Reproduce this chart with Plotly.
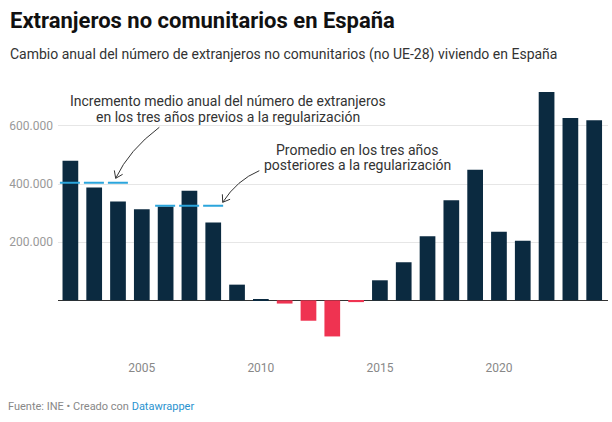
import plotly.graph_objects as go
import math

# ---------------- data ----------------
years = list(range(2002, 2025))
values = [480000, 388000, 340000, 313000, 323000, 377000, 268000, 54000, 4000,
          -11000, -70000, -124000, -6000, 69000, 131000, 220000, 344000, 449000,
          236000, 205000, 716000, 627000, 619000]
prev_years = [2002, 2004]
prev_avg = 404000
post_years = [2006, 2008]
post_avg = 325000
y_tickvals = [200000, 400000, 600000]
x_tickvals = [2005, 2010, 2015, 2020]

title = "Extranjeros no comunitarios en España"
subtitle = "Cambio anual del número de extranjeros no comunitarios (no UE-28) viviendo en España"
note1 = ["Incremento medio anual del número de extranjeros",
         "en los tres años previos a la regularización"]
note2 = ["Promedio en los tres años", "posteriores a la regularización"]

# ---------------- style / layout ----------------
W, H = 612, 422
L, R, T, B = 58, 608, 88, 344
POS, NEG = "#0b2a40", "#ef3351"
BLUE = "#2ba5dc"
FONT = "Roboto"

def PX(px):
    return (px - L) / (R - L)

def PY(py):
    return (B - py) / (B - T)

colors = [POS if v >= 0 else NEG for v in values]

fig = go.Figure()
fig.add_trace(go.Bar(x=years, y=values, marker=dict(color=colors, line=dict(width=0)),
                     hoverinfo="x+y"))

fig.update_layout(
    width=W, height=H,
    margin=dict(l=L, r=W - R, t=T, b=H - B),
    paper_bgcolor="white", plot_bgcolor="white",
    bargap=0.34, showlegend=False,
    separators=",.",
    font=dict(family=FONT, color="#333"),
)
fig.update_xaxes(range=[2001.48, 2024.58], tickvals=x_tickvals, showgrid=False,
                 zeroline=False, showline=False, ticks="", ticklabelstandoff=15,
                 tickfont=dict(size=12, color="#888", family=FONT))
fig.update_yaxes(range=[-150000, 730000], tickvals=y_tickvals, tickformat=",d",
                 showgrid=True, gridcolor="#e6e6e6", gridwidth=1,
                 zeroline=True, zerolinecolor="#333", zerolinewidth=1,
                 showline=False, ticks="", ticklabelstandoff=4,
                 tickfont=dict(size=12, color="#999", family=FONT))

# dashed average lines
for yrs, avg in [(prev_years, prev_avg), (post_years, post_avg)]:
    fig.add_shape(type="line", xref="x", yref="y", x0=yrs[0] - 0.44, x1=yrs[1] + 0.43,
                  y0=avg, y1=avg, line=dict(color=BLUE, width=2, dash="20px,4px"))

# curved arrows
def arrow(p0, c, p1, head):
    path = f"M{PX(p0[0])},{PY(p0[1])} Q{PX(c[0])},{PY(c[1])} {PX(p1[0])},{PY(p1[1])}"
    fig.add_shape(type="path", xref="paper", yref="paper", path=path,
                  line=dict(color="#333", width=1))
    dx, dy = p1[0] - c[0], p1[1] - c[1]
    n = math.hypot(dx, dy)
    ux, uy = dx / n, dy / n
    pts = []
    for a in (math.radians(35), -math.radians(35)):
        rx = ux * math.cos(a) - uy * math.sin(a)
        ry = ux * math.sin(a) + uy * math.cos(a)
        pts.append((p1[0] - head * rx, p1[1] - head * ry))
    hp = (f"M{PX(pts[0][0])},{PY(pts[0][1])} L{PX(p1[0])},{PY(p1[1])} "
          f"L{PX(pts[1][0])},{PY(pts[1][1])}")
    fig.add_shape(type="path", xref="paper", yref="paper", path=hp,
                  line=dict(color="#333", width=1))

arrow((159.3, 127.3), (129, 150), (115.7, 178.3), 8)
arrow((259.3, 170.7), (237, 180), (222.7, 202.3), 8)

def text(s, x, y, size, color="#333", xanchor="center"):
    fig.add_annotation(text=s, xref="paper", yref="paper", x=PX(x), y=PY(y),
                       xanchor=xanchor, yanchor="middle", showarrow=False,
                       font=dict(family=FONT, size=size, color=color))

text(note1[0], 228, 101.2, 14)
text(note1[1], 228, 116.9, 14)
text(note2[0], 357, 150.2, 14)
text(note2[1], 357.5, 165.2, 14)

text(f"<b>{title}</b>", 8, 20.8, 22, color="#111", xanchor="left")
text(subtitle, 8, 54.2, 14, color="#333", xanchor="left")
text("Fuente: INE • Creado con <span style='color:#2a93cf'>Datawrapper</span>",
     6, 406.6, 11, color="#888", xanchor="left")

fig.write_html("out.html")
